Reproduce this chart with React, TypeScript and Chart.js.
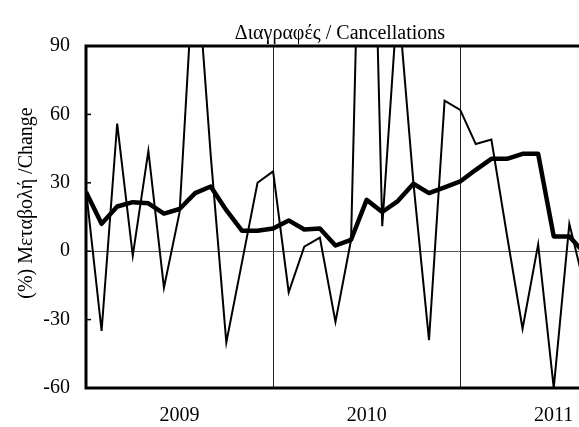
import React, { useEffect, useRef } from 'react';
import { Chart, registerables } from 'chart.js';

Chart.register(...registerables);

// Monthly observations, Jan 2009 .. Sep 2011 (the last one lies just past the visible edge)
const months = [
  '2009-01', '2009-02', '2009-03', '2009-04', '2009-05', '2009-06',
  '2009-07', '2009-08', '2009-09', '2009-10', '2009-11', '2009-12',
  '2010-01', '2010-02', '2010-03', '2010-04', '2010-05', '2010-06',
  '2010-07', '2010-08', '2010-09', '2010-10', '2010-11', '2010-12',
  '2011-01', '2011-02', '2011-03', '2011-04', '2011-05', '2011-06',
  '2011-07', '2011-08', '2011-09',
];

// Thin line: monthly % change
const monthlyChange = [
  27, -35, 56, -2, 44, -16, 17, 135, 42, -40, -5, 30,
  35, -18, 2, 6, -31, 5, 285, 11, 112, 30, -39, 66,
  62, 47, 49, 7, -34, 3, -60, 12, -16,
];

// Thick line: smoothed % change
const smoothedChange = [
  26, 12, 19.6, 21.5, 21, 16.5, 18.5, 25.5, 28.4, 18, 9, 9,
  10, 13.5, 9.5, 10, 2.5, 5, 22.5, 17.2, 22, 29.6, 25.5, 28,
  30.6, 35.7, 40.5, 40.5, 42.7, 42.7, 6.5, 6.5, -1,
];

const yearLabels = ['2009', '2010', '2011'];
const yearLabelIndex = [6, 18, 30];
const yearBoundaryIndex = [12, 24];
const yTickValues = [-60, -30, 0, 30, 60, 90];
const chartTitle = 'Διαγραφές / Cancellations';
const yAxisTitle = '(%) Μεταβολή /Change';

const FONT = '"Liberation Serif", "Times New Roman", serif';

export default function App() {
  const canvasRef = useRef<HTMLCanvasElement | null>(null);

  useEffect(() => {
    const canvas = canvasRef.current;
    if (!canvas) return;

    const decor = {
      id: 'decor',
      afterDraw(chart: any) {
        const { ctx, chartArea: a, scales } = chart;
        const y = scales.y;
        ctx.save();
        ctx.strokeStyle = '#000';
        // small inner tick marks on the y axis
        ctx.lineWidth = 1.5;
        for (const v of yTickValues) {
          const py = y.getPixelForValue(v);
          ctx.beginPath();
          ctx.moveTo(a.left, py);
          ctx.lineTo(a.left + 5, py);
          ctx.stroke();
        }
        // frame (right side lies outside the picture)
        ctx.lineWidth = 3;
        ctx.beginPath();
        ctx.moveTo(chart.width + 10, a.top);
        ctx.lineTo(a.left, a.top);
        ctx.lineTo(a.left, a.bottom);
        ctx.lineTo(chart.width + 10, a.bottom);
        ctx.stroke();
        // title
        ctx.fillStyle = '#000';
        ctx.font = `20px ${FONT}`;
        ctx.textAlign = 'center';
        ctx.textBaseline = 'alphabetic';
        ctx.fillText(chartTitle, 340, 39);
        // y axis title
        ctx.translate(27, 203);
        ctx.rotate(-Math.PI / 2);
        ctx.textBaseline = 'middle';
        ctx.fillText(yAxisTitle, 0, 0);
        ctx.restore();
      },
    };

    const chart = new Chart(canvas, {
      type: 'line',
      data: {
        labels: months,
        datasets: [
          {
            label: 'smoothed',
            data: smoothedChange.map((v, i) => ({ x: i, y: v })),
            borderColor: '#000',
            borderWidth: 4.5,
            pointRadius: 0,
            tension: 0,
            fill: false,
            clip: 0,
            borderJoinStyle: 'round',
          },
          {
            label: 'monthly',
            data: monthlyChange.map((v, i) => ({ x: i, y: v })),
            borderColor: '#000',
            borderWidth: 2,
            pointRadius: 0,
            tension: 0,
            fill: false,
            clip: 0,
            borderJoinStyle: 'miter',
          },
        ],
      },
      options: {
        responsive: false,
        animation: false,
        devicePixelRatio: 1,
        layout: { padding: { top: 46, right: 0, bottom: 0, left: 0 } },
        plugins: {
          legend: { display: false },
          title: { display: false },
          tooltip: { enabled: false },
        },
        scales: {
          x: {
            type: 'linear',
            min: 0,
            max: 31.62,
            afterFit(scale: any) {
              scale.height = 39;
              scale.paddingLeft = 0;
              scale.paddingRight = 0;
            },
            afterBuildTicks(scale: any) {
              const vals = [...yearLabelIndex, ...yearBoundaryIndex].sort((p, q) => p - q);
              scale.ticks = vals.map((v) => ({ value: v }));
            },
            border: { display: false },
            grid: {
              drawTicks: false,
              lineWidth: 1,
              color: (ctx: any) =>
                ctx.tick && yearBoundaryIndex.includes(ctx.tick.value) ? '#222' : 'rgba(0,0,0,0)',
            },
            ticks: {
              autoSkip: false,
              maxRotation: 0,
              padding: 16,
              color: '#000',
              font: { family: FONT, size: 20 },
              callback: (value: any) => {
                const k = yearLabelIndex.indexOf(Number(value));
                return k >= 0 ? yearLabels[k] : '';
              },
            },
          },
          y: {
            min: -60,
            max: 90,
            afterFit(scale: any) {
              scale.width = 86;
              scale.paddingTop = 0;
              scale.paddingBottom = 0;
            },
            afterBuildTicks(scale: any) {
              scale.ticks = yTickValues.map((v) => ({ value: v }));
            },
            border: { display: false },
            grid: {
              drawTicks: false,
              lineWidth: 1,
              color: (ctx: any) => (ctx.tick && ctx.tick.value === 0 ? '#555' : 'rgba(0,0,0,0)'),
            },
            ticks: {
              padding: 16,
              color: '#000',
              font: { family: FONT, size: 20 },
            },
          },
        },
      },
      plugins: [decor],
    });

    return () => chart.destroy();
  }, []);

  return (
    <div style={{ position: 'fixed', left: 0, top: 0, width: 579, height: 427, background: '#fff' }}>
      <canvas ref={canvasRef} width={579} height={427} />
    </div>
  );
}
